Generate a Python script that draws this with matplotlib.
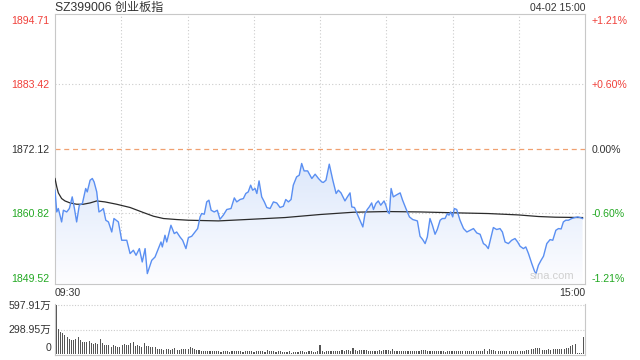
import numpy as np
import matplotlib
matplotlib.use("Agg")
import matplotlib.pyplot as plt
from matplotlib.colors import LinearSegmentedColormap
from matplotlib.patches import PathPatch
import matplotlib.transforms as mtransforms

plt.rcParams['font.family'] = ['Liberation Sans', 'Noto Sans CJK SC', 'DejaVu Sans']

title = "SZ399006 创业板指"
stamp = "04-02 15:00"
prev_close = 1872.12
price_levels = [1894.71, 1883.42, 1872.12, 1860.82, 1849.52]
time_labels = ["09:30", "15:00"]
vol_labels = ["597.91万", "298.95万", "0"]
vol_levels = [597.91, 298.95, 0]

# intraday price (minute index since 09:30, trading minutes)
price_min = [0, 0.8, 1.5, 3, 3.8, 5.3, 6.5, 7.8, 8.8, 9.8, 11, 12.4, 13.9, 14.6, 15.9, 16.9, 17.7, 18.9,
             19.9, 21.1, 21.9, 23, 24.2, 25.7, 26.7, 28.7, 30.2, 32.5, 34, 35.5, 36.7, 38.2, 39.5, 40.8,
             41.8, 43.8, 45.3, 46.8, 48, 48.6, 49.8, 50.6, 52.5, 54, 55.1, 56.6, 57.8, 59.3, 60.4, 61.9,
             63.4, 64.6, 65.7, 66.4, 67.6, 68.7, 69.7, 70.7, 72.1, 73.5, 74.7, 76.2, 77.8, 79.7, 81.2,
             82.3, 83.8, 85.3, 86.4, 87.5, 88.6, 89.5, 90.6, 91.4, 92.4, 93.6, 94.8, 95.9, 97.4, 98.9,
             100.4, 101.9, 103.4, 104.5, 105.7, 106.9, 107.9, 109.4, 110.6, 111.7, 112.8, 114.4, 116.3,
             117.8, 119.3, 120.8, 121.5, 122.7, 124.2, 125.8, 127.3, 128.3, 129.5, 131.3, 132.4, 133.6,
             134.4, 135.6, 136.9, 138.1, 139.4, 140.4, 141.4, 142.3, 143.4, 144.2, 145.3, 146.4, 147.5,
             149, 149.8, 150.7, 151.4, 152.2, 153.2, 154.4, 156.3, 157.4, 158.9, 160.5, 162, 164.1,
             165.3, 166.5, 167.6, 168.6, 169.8, 170.9, 172.1, 173.1, 174.4, 175.4, 176.6, 177.7, 178.4,
             179.2, 180.1, 180.8, 181.9, 183.4, 185, 186.5, 188, 189.5, 191, 192.5, 194, 195.1, 196.2,
             197.5, 198.5, 200, 201.5, 202.6, 203.8, 205.3, 206.8, 208.3, 209.5, 210.6, 212.1, 213.2,
             214.4, 215.9, 217.1, 217.8, 218.9, 220.1, 221.2, 222.7, 224.2, 225.4, 226.8, 228, 229.2,
             230.2, 231.3, 232.5, 234, 235.5, 236.7, 237.8, 238.9]
price = [1864.90, 1861.09, 1861.69, 1859.34, 1861.39, 1861.09, 1861.69, 1863.73, 1861.69, 1859.34,
         1862.27, 1862.57, 1865.20, 1864.60, 1866.65, 1866.95, 1866.35, 1864.60, 1861.09, 1861.39,
         1861.69, 1859.64, 1859.34, 1857.58, 1859.94, 1859.34, 1856.13, 1856.13, 1853.80, 1854.38,
         1853.50, 1854.67, 1852.33, 1854.67, 1850.29, 1852.62, 1853.20, 1854.67, 1855.83, 1854.96,
         1857.01, 1855.83, 1858.76, 1857.30, 1857.58, 1856.71, 1856.13, 1854.67, 1856.60, 1856.83,
         1857.58, 1858.18, 1860.22, 1860.81, 1860.69, 1862.85, 1863.15, 1861.39, 1861.09, 1861.39,
         1859.81, 1860.52, 1861.52, 1861.69, 1863.55, 1862.85, 1863.27, 1863.44, 1864.32, 1864.60,
         1865.78, 1864.90, 1865.20, 1864.32, 1866.53, 1863.73, 1862.85, 1861.87, 1861.69, 1862.85,
         1862.67, 1861.87, 1862.09, 1863.27, 1862.85, 1863.27, 1865.78, 1867.23, 1867.53, 1869.58,
         1868.28, 1868.28, 1866.95, 1867.70, 1866.95, 1866.35, 1866.25, 1866.65, 1869.46, 1866.65,
         1864.32, 1864.90, 1864.43, 1863.02, 1863.73, 1864.43, 1861.97, 1861.87, 1860.69, 1859.64,
         1858.46, 1860.81, 1861.52, 1861.97, 1862.67, 1861.52, 1862.57, 1863.02, 1862.27, 1863.02,
         1862.27, 1861.09, 1860.81, 1865.20, 1863.73, 1864.02, 1864.43, 1863.15, 1861.69, 1860.22,
         1859.76, 1859.52, 1856.83, 1856.25, 1855.55, 1856.71, 1859.94, 1858.76, 1857.18, 1858.01,
         1859.64, 1859.94, 1859.94, 1860.81, 1860.52, 1861.09, 1860.22, 1861.69, 1861.52, 1859.64,
         1858.18, 1857.58, 1857.88, 1858.18, 1857.41, 1857.18, 1855.55, 1855.25, 1854.67, 1856.71,
         1858.36, 1858.01, 1858.18, 1857.58, 1855.83, 1855.55, 1856.13, 1856.43, 1855.83, 1855.08,
         1854.67, 1854.96, 1853.80, 1852.04, 1850.75, 1850.29, 1851.75, 1852.62, 1853.33, 1855.55,
         1856.25, 1856.13, 1857.88, 1858.18, 1858.11, 1859.34, 1859.64, 1859.64, 1859.94, 1860.11,
         1860.22, 1860.11, 1859.94]

# average price line
avg_min = [0, 0.8, 1.5, 3, 4.5, 6.8, 9.8, 12.8, 15.9, 18.9, 22.6, 27.9, 34, 40, 44.6, 49.1, 55.1,
           60.4, 74, 89.1, 104.2, 120, 135.2, 150.3, 165.4, 183, 196.2, 209.8, 218.9, 226.5, 238.9]
avg_price = [1866.95, 1865.48, 1864.43, 1863.44, 1863.02, 1862.67, 1862.44, 1862.44, 1862.67, 1863.02,
             1862.85, 1862.44, 1861.87, 1860.99, 1860.34, 1859.94, 1859.76, 1859.64, 1859.52, 1859.81,
             1860.11, 1860.64, 1861.04, 1861.16, 1861.09, 1860.92, 1860.81, 1860.57, 1860.29, 1860.17,
             1860.11]

# volume per minute (万)
vol_am = [597.91, 307, 275, 259, 234, 210, 186, 174, 174, 186, 210, 174, 154, 154, 154, 162, 137, 125,
          137, 121, 186, 133, 113, 105, 105, 89, 113, 97, 89, 89, 113, 125, 113, 113, 137, 149, 101,
          109, 97, 89, 133, 101, 97, 89, 81, 81, 65, 65, 65, 48, 57, 65, 48, 65, 73, 53, 48, 57, 65,
          65, 65, 89, 69, 57, 44, 44, 40, 40, 40, 40, 32, 36, 32, 32, 32, 24, 32, 32, 32, 24, 32, 40,
          40, 40, 32, 24, 32, 36, 32, 32, 24, 32, 40, 32, 32, 24, 48, 36, 32, 32, 24, 32, 32, 24, 24,
          24, 32, 16, 24, 24, 28, 32, 32, 24, 24, 32, 32, 24, 24, 32, 113]
vol_pm = [40, 24, 32, 40, 40, 40, 40, 40, 40, 53, 40, 48, 48, 40, 73, 48, 40, 48, 48, 48, 48, 40, 32,
          32, 32, 40, 48, 40, 48, 48, 48, 40, 61, 40, 32, 32, 32, 32, 32, 40, 32, 32, 32, 32, 40, 48,
          48, 48, 40, 40, 32, 32, 32, 32, 40, 32, 24, 32, 32, 32, 32, 32, 32, 40, 32, 32, 32, 32, 32,
          32, 40, 32, 40, 32, 65, 32, 65, 48, 48, 32, 32, 32, 32, 32, 40, 40, 32, 40, 32, 32, 40, 40,
          40, 48, 48, 57, 65, 73, 73, 73, 48, 48, 48, 57, 48, 57, 57, 57, 65, 57, 65, 73, 73, 93, 113,
          121, 8, 8, 8, 214]
volume = vol_am + vol_pm

RED = '#f0403a'
GREEN = '#22a822'
DARK = '#333333'
GRID = '#cccccc'
BORDER = '#c8c8c8'
LINE = '#5a8ff2'

W, H = 640, 360
fig = plt.figure(figsize=(6.4, 3.6), dpi=100)

def rect(l, t, r, b):
    return [l / W, 1 - b / H, (r - l) / W, (b - t) / H]

ax = fig.add_axes(rect(55, 14, 585, 284))
pad = 1.05
ylo, yhi = price_levels[-1] - pad, price_levels[0] + pad
ax.set_xlim(0, 240)
ax.set_ylim(ylo, yhi)

# gradient fill under line
poly = ax.fill_between(price_min, price, ylo, color='none', lw=0)
path = poly.get_paths()[0]
patch = PathPatch(path, transform=ax.transData, facecolor='none', edgecolor='none')
ax.add_patch(patch)
cmap = LinearSegmentedColormap.from_list('g', ['#fdfdff', '#dde8fb'])
grad = np.linspace(0, 1, 256).reshape(-1, 1)
im = ax.imshow(grad, extent=[0, 240, ylo, max(price)], origin='lower', aspect='auto',
               cmap=cmap, zorder=1, interpolation='bicubic')
im.set_clip_path(patch)
ax.set_xlim(0, 240)
ax.set_ylim(ylo, yhi)

ax.plot(price_min, price, color=LINE, lw=1.0, zorder=4)
ax.plot(avg_min, avg_price, color='#2b2b2b', lw=0.9, zorder=3)

for lv in (price_levels[1], price_levels[3]):
    ax.axhline(lv, color=GRID, lw=0.8, ls=(0, (1, 2)), zorder=0)
for m in range(30, 240, 30):
    ax.axvline(m, color=GRID, lw=0.8, ls=(0, (1, 2)), zorder=0)
ax.axhline(prev_close, color='#f0a070', lw=0.9, ls=(0, (4, 3)), zorder=2)

for s in ax.spines.values():
    s.set_color(BORDER)
    s.set_linewidth(0.8)
ax.set_xticks([])
ax.set_yticks(price_levels)
ax.set_yticklabels([f"{v:.2f}" for v in price_levels], fontsize=7.6)
ax.tick_params(axis='y', length=0, pad=4)
cols = [RED, RED, DARK, GREEN, GREEN]
for lab, c in zip(ax.get_yticklabels(), cols):
    lab.set_color(c)

ax2 = ax.twinx()
ax2.set_ylim(ax.get_ylim())
ax2.set_yticks(price_levels)
pct = [(v - prev_close) / prev_close * 100 for v in price_levels]
ax2.set_yticklabels([("+" if p > 0.005 else "") + f"{p:.2f}%" for p in pct], fontsize=7.6)
ax2.tick_params(axis='y', length=0, pad=5)
for lab, c in zip(ax2.get_yticklabels(), cols):
    lab.set_color(c)
for s in ax2.spines.values():
    s.set_visible(False)

fig.text(55 / W, 1 - 8 / H, title, fontsize=8.7, color=DARK, ha='left', va='center')
fig.text(585 / W, 1 - 8 / H, stamp, fontsize=7.5, color=DARK, ha='right', va='center')
fig.text(55 / W, 1 - 293 / H, time_labels[0], fontsize=7.6, color=DARK, ha='left', va='center')
fig.text(585 / W, 1 - 293 / H, time_labels[1], fontsize=7.6, color=DARK, ha='right', va='center')
ax.text(0.98, 0.012, "sina.com", transform=ax.transAxes, fontsize=8, color='#d0d0d0',
        ha='right', va='bottom', zorder=5)

# volume panel
axv = fig.add_axes(rect(55, 304, 585, 355))
n = len(volume)
axv.bar(np.arange(n) + 0.5, volume, width=0.5, color='#555555', lw=0)
axv.set_xlim(0, n)
axv.set_ylim(-12.3, 616.4)
for lv in vol_levels[:2]:
    axv.axhline(lv, color=GRID, lw=0.8, ls=(0, (1, 1.5)), zorder=0)
axv.set_xticks([])
axv.set_yticks([])
axv.spines['top'].set_visible(False)
for k in ('left', 'right', 'bottom'):
    axv.spines[k].set_color(BORDER)
    axv.spines[k].set_linewidth(0.8)
vol_y = [306, 330, 348]
for lab, yy in zip(vol_labels, vol_y):
    fig.text(51 / W, 1 - yy / H, lab, fontsize=7.6, color=DARK, ha='right', va='center')

fig.savefig("out.png", dpi=100)
